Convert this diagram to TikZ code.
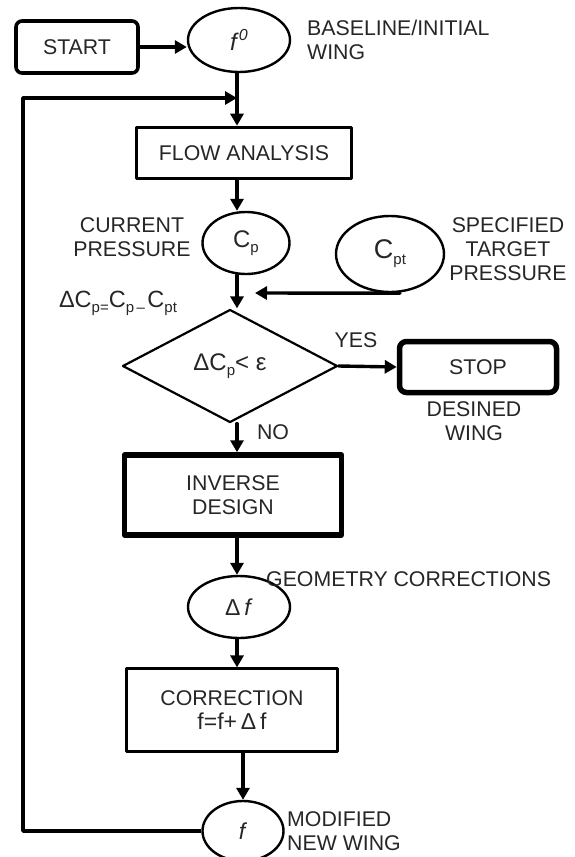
\documentclass[tikz,border=0pt]{standalone}
\usepackage{fontspec}
\setmainfont{Liberation Sans}
\usetikzlibrary{arrows.meta,shapes.geometric}
\newcommand\sub[1]{\raisebox{-0.22em}{\fontsize{15}{15}\selectfont #1}}

\begin{document}
\begin{tikzpicture}[x=1pt,y=-1pt,line cap=round,line join=round,
    every node/.style={font=\fontsize{21.3}{24}\selectfont,text=black!85,inner sep=0pt},
    arr/.style={line width=3.4pt,-{Triangle[length=12pt,width=13pt]}},
    oval/.style={draw,ellipse,line width=2.4pt},
    termbox/.style={draw,rounded corners=6pt,minimum width=122pt,minimum height=52pt,line width=3.6pt},
    procbox/.style={draw,minimum width=215pt,minimum height=51pt,line width=3.6pt},
    txt/.style={align=center}]
  \useasboundingbox (0,0) rectangle (574,857);
  % top: start and initial wing
  \node[termbox] (start) at (77,47) {START};
  \node[oval,minimum width=102pt,minimum height=64pt] (f0) at (239,40) {\fontsize{24}{24}\selectfont\textit{f}\raisebox{0.4em}{\fontsize{16}{16}\selectfont\textit{0}}};
  \node[txt,align=left,anchor=west] (base) at (307,40) {BASELINE/INITIAL\\WING};
  \node[procbox] (flow) at (244,153) {FLOW ANALYSIS};
  \coordinate (col) at (237,0);
  % pressures
  \node[oval,minimum width=87pt,minimum height=62pt,font=\fontsize{24}{24}\selectfont] (cp) at (246,243) {C\sub{p}};
  \node[txt] (cplab) at (132,237) {CURRENT\\PRESSURE};
  \node[oval,minimum width=108pt,minimum height=76pt,font=\fontsize{27}{27}\selectfont] (cpt) at (390,254) {C\sub{pt}};
  \node[txt] (cptlab) at (508,249) {SPECIFIED\\TARGET\\PRESSURE};
  \node[font=\fontsize{23.5}{24}\selectfont] (dcp) at (118,303) {ΔC\sub{p=}C\sub{p\,–\,}C\sub{pt}};
  \coordinate (join) at (255,293);
  % decision
  \node[draw,diamond,minimum width=215pt,minimum height=113pt,line width=2.2pt,font=\fontsize{24}{24}\selectfont] (test) at (230,366) {ΔC\sub{p}<\;ε};
  \node (yes) at (356,340) {YES};
  \node[draw,rounded corners=7pt,minimum width=157pt,minimum height=51pt,line width=5.5pt] (stop) at (478,367) {STOP};
  \node[txt] (deslab) at (474,421) {DESINED\\WING};
  \node (no) at (273,432) {NO};
  % correction loop
  \node[draw,txt,minimum width=217pt,minimum height=80pt,line width=5.5pt] (inv) at (233,495) {INVERSE\\DESIGN};
  \node[oval,minimum width=102pt,minimum height=62pt,font=\fontsize{23}{23}\selectfont] (df) at (239,607) {Δ\,\textit{f}};
  \node[anchor=west] (geolab) at (266,579) {GEOMETRY CORRECTIONS};
  \node[draw,txt,minimum width=211pt,minimum height=83pt,line width=2.2pt] (corr) at (232,710) {CORRECTION\\{\fontsize{23}{24}\selectfont f=f+\,Δ\,f}};
  \node[oval,minimum width=81pt,minimum height=60pt,font=\fontsize{23}{23}\selectfont] (fnew) at (243,831) {\textit{f}};
  \node[txt,align=left,anchor=west] (modlab) at (287,831) {MODIFIED\\NEW WING};
  \coordinate (ret) at (23,98);

  \draw[arr] (start.east) -- (start.east -| f0.west);
  \draw[arr] (f0.south -| col) -- (flow.north -| col);
  \draw[arr] (flow.south -| col) -- (cp.north -| col);
  \draw[arr] (cp.south -| col) -- (test.north -| col);
  \draw[arr] ([xshift=10pt]cpt.south) -- (join);
  \draw[arr] (test.east) -- (stop.west);
  \draw[arr] (test.south -| col) -- (inv.north -| col);
  \draw[arr] (inv.south -| col) -- (df.north -| col);
  \draw[arr] (df.south -| col) -- (corr.north -| col);
  \draw[arr] (corr.south -| fnew) -- (fnew.north);
  \draw[arr,line cap=butt] (fnew.west) -- (fnew.west -| ret) -- (ret) -- (ret -| col);
\end{tikzpicture}
\end{document}
